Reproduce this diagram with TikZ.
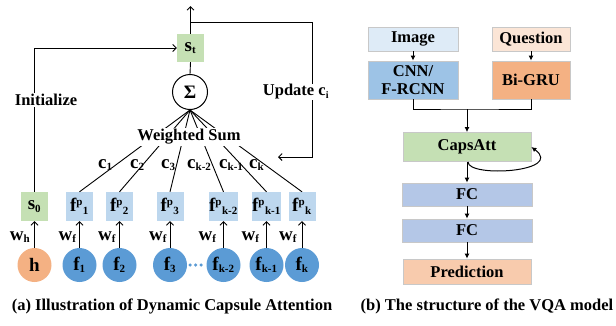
\documentclass[tikz,border=0pt]{standalone}
\usepackage{fontspec}
\setmainfont{Liberation Serif}
\usetikzlibrary{arrows.meta}
\DeclareMathSizes{19}{19}{11}{8}
\DeclareMathSizes{16.5}{16.5}{10}{7}
\definecolor{cblue}{HTML}{5B9BD5}
\definecolor{corange}{HTML}{F4B183}
\definecolor{sgreen}{HTML}{C5E0B4}
\definecolor{fpblue}{HTML}{BDD7EE}
\definecolor{imgblue}{HTML}{DEEBF7}
\definecolor{qorange}{HTML}{FBE5D6}
\definecolor{cnnblue}{HTML}{9DC3E6}
\definecolor{fcblue}{HTML}{B4C7E7}
\definecolor{predor}{HTML}{F8CBAD}
\definecolor{bordg}{HTML}{C8C8C8}
\tikzset{
  base/.style={font=\fontsize{16.5}{19}\selectfont\bfseries},
  sym/.style={font=\fontsize{19}{21}\selectfont\bfseries},
  gbox/.style={sym, fill=sgreen, minimum width=27pt, minimum height=28pt, inner sep=0pt},
  pbox/.style={sym, fill=fpblue, minimum width=27pt, minimum height=29pt, inner sep=0pt},
  circ/.style={sym, circle, fill=cblue, minimum size=34pt, inner sep=0pt},
  hcirc/.style={sym, circle, fill=corange, minimum size=34pt, inner sep=0pt},
  lbl/.style={sym, inner sep=0pt},
  wlbl/.style={base, fill=white, inner sep=1pt},
  oarr/.style={line width=0.9pt, -{Straight Barb[length=3.5pt,width=7pt,line width=0.9pt]}},
  plain/.style={line width=0.9pt},
  rbox/.style={base, draw=bordg, line width=0.8pt, inner sep=0pt, align=center},
  farr/.style={line width=1pt, -{Latex[length=5pt,width=5pt]}},
}
\begin{document}
\begin{tikzpicture}[x=1pt,y=-1pt]
\useasboundingbox (0,0) rectangle (616,325);

% ---------------- (a) ----------------
\node[gbox] (st) at (190.5,48) {s\textsubscript{t}};
\node[sym, circle, draw, line width=1pt, fill=white, minimum size=35pt, inner sep=0pt] (sig) at (190,92) {Σ};

\node[gbox, minimum height=29pt] (s0) at (34.5,206.5) {s\textsubscript{0}};
\node[pbox] (fp1) at (79.5,206.5) {f\textsuperscript{p}\textsubscript{1}};
\node[pbox] (fp2) at (119.5,206.5) {f\textsuperscript{p}\textsubscript{2}};
\node[pbox] (fp3) at (170,206.5) {f\textsuperscript{p}\textsubscript{3}};
\node[pbox] (fpk2) at (223.5,206.5) {f\textsuperscript{p}\textsubscript{k-2}};
\node[pbox] (fpk1) at (266.5,206.5) {f\textsuperscript{p}\textsubscript{k-1}};
\node[pbox] (fpk) at (302,206.5) {f\textsuperscript{p}\textsubscript{k}};

\node[hcirc] (h) at (34.5,265) {h};
\node[circ] (f1) at (79.5,265) {f\textsubscript{1}};
\node[circ] (f2) at (119.5,265) {f\textsubscript{2}};
\node[circ] (f3) at (170,265) {f\textsubscript{3}};
\node[circ] (fk2) at (223.5,265) {f\textsubscript{k-2}};
\node[circ] (fk1) at (266.5,265) {f\textsubscript{k-1}};
\node[circ] (fk) at (302,265) {f\textsubscript{k}};

\draw[cblue, line width=3.5pt, line cap=round, dash pattern=on 0pt off 5.5pt, shorten <=3pt, shorten >=2pt] (f3.east) -- (fk2.west);

\foreach \a/\b in {h/s0, f1/fp1, f2/fp2, f3/fp3, fk2/fpk2, fk1/fpk1, fk/fpk}
  \draw[oarr] (\a.north) -- (\b.south);

\node[lbl] (wh) at (20,237) {w\textsubscript{h}};
\node[lbl] (wf1) at (67.5,237) {w\textsubscript{f}};
\node[lbl] (wf2) at (107,237) {w\textsubscript{f}};
\node[lbl] (wf3) at (158,237) {w\textsubscript{f}};
\node[lbl] (wf4) at (207.5,237) {w\textsubscript{f}};
\node[lbl] (wf5) at (250.5,237) {w\textsubscript{f}};
\node[lbl] (wf6) at (288,237) {w\textsubscript{f}};

\node[lbl, anchor=base west] (c1) at (98,168) {c\textsubscript{1}};
\node[lbl, anchor=base west] (c2) at (130,168) {c\textsubscript{2}};
\node[lbl, anchor=base west] (c3) at (161,168) {c\textsubscript{3}};
\node[lbl, anchor=base west] (ck2) at (187,168) {c\textsubscript{k-2}};
\node[lbl, anchor=base west] (ck1) at (219,168) {c\textsubscript{k-1}};
\node[lbl, anchor=base west] (ck) at (249,168) {c\textsubscript{k}};

\foreach \b in {fp1, fp2, fp3, fpk2, fpk1, fpk}
  \draw[plain] (sig.south) -- (\b.north);

\node[wlbl] (ws) at (189,137) {Weighted Sum};

\draw[plain] (sig.north) -- (st.south);
\coordinate (top) at (190.5,6);
\draw[oarr] (st.north) -- (top);
\coordinate (j) at (190.5,22);
\coordinate (ur) at (312,22);
\coordinate (lr) at (312,157);
\coordinate (ue) at (278,157);
\draw[oarr] (j) -- (ur) -- (lr) -- (ue);
\draw[oarr] (s0.north) |- (st.west);

\node[wlbl] (init) at (46,100) {Initialize};
\node[wlbl] (upd) at (296,92) {Update c\textsubscript{i}};

\node[base] (capa) at (172,306) {(a) Illustration of Dynamic Capsule Attention};

% ---------------- (b) ----------------
\node[rbox, fill=imgblue, minimum width=90pt, minimum height=24pt] (img) at (413,39) {Image};
\node[rbox, fill=qorange, minimum width=78pt, minimum height=24pt] (que) at (531,39) {Question};
\node[rbox, fill=cnnblue, minimum width=90pt, minimum height=38pt] (cnn) at (413,80) {CNN/\\[-1pt]F-RCNN};
\node[rbox, fill=corange, minimum width=78pt, minimum height=38pt] (gru) at (531,80) {Bi-GRU};
\node[rbox, fill=sgreen, minimum width=128pt, minimum height=29pt] (caps) at (467,147) {CapsAtt};
\node[rbox, fill=fcblue, minimum width=130pt, minimum height=23pt] (fc1) at (467,194.5) {FC};
\node[rbox, fill=fcblue, minimum width=130pt, minimum height=23pt] (fc2) at (467,230.5) {FC};
\node[rbox, fill=predor, minimum width=128pt, minimum height=25pt] (pred) at (467,271.5) {Prediction};

\draw[farr] (img) -- (cnn);
\draw[farr] (que) -- (gru);
\coordinate (m) at (467,109);
\draw[line width=1pt] (cnn.south) |- (m) -| (gru.south);
\draw[farr] (m) -- (caps.north);
\draw[farr] (caps.south) -- (fc1.north);
\draw[farr] (fc1.south) -- (fc2.north);
\draw[farr] (fc2.south) -- (pred.north);
\coordinate (lc1) at (468,178);
\coordinate (lc2) at (565,172);
\draw[farr] ([xshift=1pt]caps.south) .. controls (lc1) and (lc2) .. (caps.east);

\node[base] (capb) at (487,306) {(b) The structure of the VQA model};
\end{tikzpicture}
\end{document}
